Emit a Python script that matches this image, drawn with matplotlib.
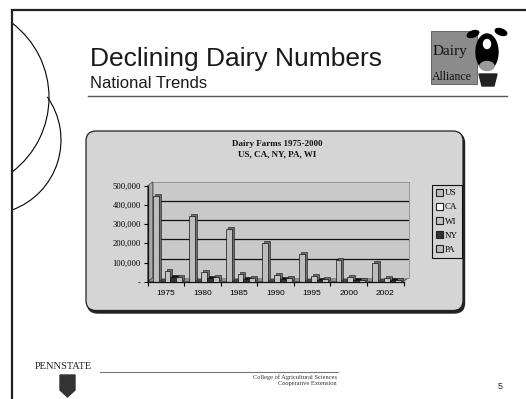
import numpy as np
import matplotlib
matplotlib.use('Agg')
import matplotlib.pyplot as plt
import matplotlib.transforms as mtransforms
from matplotlib.patches import Arc, FancyBboxPatch, Polygon, Rectangle, Ellipse, Patch

W, H = 526, 399

# chart data
years = ['1975', '1980', '1985', '1990', '1995', '2000', '2002']
series = ['US', 'CA', 'WI', 'NY', 'PA']
us = [446000, 341000, 273000, 200000, 146000, 111000, 99000]
ca = [5000, 4500, 4000, 3000, 2500, 2300, 2200]
wi = [55000, 48000, 42000, 34000, 29000, 23000, 20000]
ny = [22000, 19000, 16000, 13000, 10000, 8000, 7000]
pa = [27000, 24000, 21000, 17000, 13000, 11000, 10000]
yticks = [0, 100000, 200000, 300000, 400000, 500000]
ytick_labels = ['-', '100,000', '200,000', '300,000', '400,000', '500,000']

fills = ['#bdbdbd', '#ffffff', '#c4c4c4', '#333333', '#bdbdbd']
sides = ['#6e6e6e', '#8a8a8a', '#707070', '#111111', '#6e6e6e']


def box(x0, y0, x1, y1):
    # pixel box (top-left origin) -> figure fraction rect
    return [x0 / W, 1 - y1 / H, (x1 - x0) / W, (y1 - y0) / H]


fig = plt.figure(figsize=(W / 100, H / 100), dpi=100)
fig.patch.set_facecolor('white')

# slide background in pixel coords
bg = fig.add_axes([0, 0, 1, 1])
bg.set_xlim(0, W)
bg.set_ylim(H, 0)
bg.axis('off')

# slide border
bg.plot([12, 12, W], [H, 10, 10], color='#222222', lw=1.6, solid_joinstyle='miter')
# decorative arcs
bg.add_patch(Arc((-44.5, 97.5), 187, 187, theta1=-52.8, theta2=52.8, color='black', lw=0.8))
bg.add_patch(Arc((-13.5, 140), 149, 149, theta1=-35.3, theta2=70, color='black', lw=0.8))

# heading
bg.text(90, 66, 'Declining Dairy Numbers', fontsize=19, family='Liberation Sans',
        color='#1a1a1a', va='baseline')
bg.text(90, 88, 'National Trends', fontsize=12, family='Liberation Sans',
        color='#1a1a1a', va='baseline')
bg.plot([88, 507], [96, 96], color='#555555', lw=1.0)

# Dairy Alliance logo (rough)
bg.add_patch(Rectangle((431, 31), 46, 53, facecolor='#8c8c8c', edgecolor='#555555', lw=0.6))
bg.text(433, 55, 'Dairy', fontsize=11, family='Liberation Serif', color='#111111',
        va='baseline')
bg.text(432, 80, 'Alliance', fontsize=8.5, family='Liberation Serif', color='#111111',
        va='baseline')
bg.add_patch(Ellipse((473, 34), 12, 6, angle=-20, color='black'))
bg.add_patch(Ellipse((501, 32), 12, 6, angle=20, color='black'))
bg.add_patch(Ellipse((487, 52), 22, 36, color='black'))
bg.add_patch(Ellipse((487, 44), 7, 9, color='white'))
bg.add_patch(Ellipse((487, 66), 14, 9, color='#9a9a9a'))
bg.add_patch(Polygon([(479, 74), (497, 74), (494, 86), (482, 86)], closed=True, color='#222222'))

# chart area box
bg.add_patch(FancyBboxPatch((87.5, 133), 377, 180, boxstyle='round,pad=0,rounding_size=10',
                            facecolor='#222222', edgecolor='#222222', lw=1))
bg.add_patch(FancyBboxPatch((86, 131), 377, 179.5, boxstyle='round,pad=0,rounding_size=10',
                            facecolor='#d5d5d5', edgecolor='#222222', lw=0.9))

bg.text(277, 146, 'Dairy Farms 1975-2000', fontsize=6.5, family='Liberation Serif',
        weight='bold', ha='center', va='baseline', color='#111111')
bg.text(277, 156, 'US, CA, NY, PA, WI', fontsize=6.5, family='Liberation Serif',
        weight='bold', ha='center', va='baseline', color='#111111')

# 3D-ish walls
fx0, fx1, fy0, fy1 = 147.7, 403.5, 185.7, 281.7
dx, dy = 5, 4
bg.add_patch(Polygon([(fx0, fy1), (fx0, fy0), (fx0 + dx, fy0 - dy), (fx0 + dx, fy1 - dy)],
                     closed=True, facecolor='#a9a9a9', edgecolor='#444444', lw=0.5))
bg.add_patch(Polygon([(fx0, fy1), (fx0 + dx, fy1 - dy), (fx1 + dx, fy1 - dy), (fx1, fy1)],
                     closed=True, facecolor='#8f8f8f', edgecolor='#444444', lw=0.5))

# back wall with gridlines
wall = fig.add_axes(box(fx0 + dx, fy0 - dy, fx1 + dx, fy1 - dy))
wall.set_facecolor('#c9c9c9')
wall.set_xlim(-0.5, len(years) - 0.5)
wall.set_ylim(0, 500000)
wall.set_xticks([])
wall.set_yticks(yticks[1:-1])
wall.tick_params(left=False, labelleft=False)
wall.grid(axis='y', color='#111111', lw=0.9)
for s in wall.spines.values():
    s.set_color('#8c8c8c')
    s.set_linewidth(0.6)

# front axes with the bars
ax = fig.add_axes(box(fx0, fy0, fx1, fy1))
ax.patch.set_alpha(0)
x = np.arange(len(years))
bw = 0.16
data = [us, ca, wi, ny, pa]
depth = mtransforms.ScaledTranslation(2 / 100, 2 / 100, fig.dpi_scale_trans)
handles = []
for i, vals in enumerate(data):
    pos = x + (i - 2) * bw + 0.04
    ax.bar(pos, vals, bw, color=sides[i], edgecolor='#111111', lw=0.4,
           transform=ax.transData + depth, zorder=2 + i)
    ax.bar(pos, vals, bw, color=fills[i], edgecolor='#111111', lw=0.5, zorder=2 + i)
    handles.append(Patch(facecolor=fills[i], edgecolor='#222222', lw=0.8, label=series[i]))

ax.set_xlim(-0.5, len(years) - 0.5)
ax.set_ylim(0, 500000)
ax.set_yticks(yticks)
ax.set_yticklabels(ytick_labels, family='Liberation Serif', fontsize=6.2)
ax.set_xticks(x)
ax.set_xticklabels(years, family='Liberation Sans', fontsize=6)
ax.set_xticks(np.arange(len(years) + 1) - 0.5, minor=True)
ax.tick_params(axis='x', which='major', length=0, pad=6)
ax.tick_params(axis='x', which='minor', length=3, width=0.8, direction='out')
ax.tick_params(axis='y', length=3, width=0.8, pad=2)
for s in ['top', 'right']:
    ax.spines[s].set_visible(False)
for s in ['left', 'bottom']:
    ax.spines[s].set_linewidth(0.9)
    ax.spines[s].set_color('#111111')

leg = fig.legend(handles=handles, loc='upper left', bbox_to_anchor=(432 / W, 1 - 185 / H),
                 prop={'family': 'Liberation Serif', 'size': 6.5}, frameon=True,
                 fancybox=False, edgecolor='#111111', facecolor='#d5d5d5', framealpha=1,
                 handlelength=0.8, handleheight=0.8, handletextpad=0.25,
                 labelspacing=0.62, borderpad=0.4, borderaxespad=0)
leg.get_frame().set_linewidth(0.8)

# footer
bg.text(35, 369, 'PENNSTATE', fontsize=7.5, family='Liberation Serif', color='#222222', va='baseline')
bg.plot([100, 338], [372, 372], color='#777777', lw=0.8)
bg.add_patch(Polygon([(60, 375), (75, 375), (75, 390), (67.5, 397), (60, 390)], closed=True,
                     facecolor='#333333', edgecolor='#333333'))
bg.text(337, 379, 'College of Agricultural Sciences', fontsize=4.6, family='Liberation Serif',
        color='#333333', ha='right', va='baseline')
bg.text(337, 385, 'Cooperative Extension', fontsize=4.6, family='Liberation Serif',
        color='#333333', ha='right', va='baseline')
bg.text(498, 389, '5', fontsize=6.5, family='Liberation Sans', color='#222222', va='baseline')

fig.savefig('out.png', dpi=100)
